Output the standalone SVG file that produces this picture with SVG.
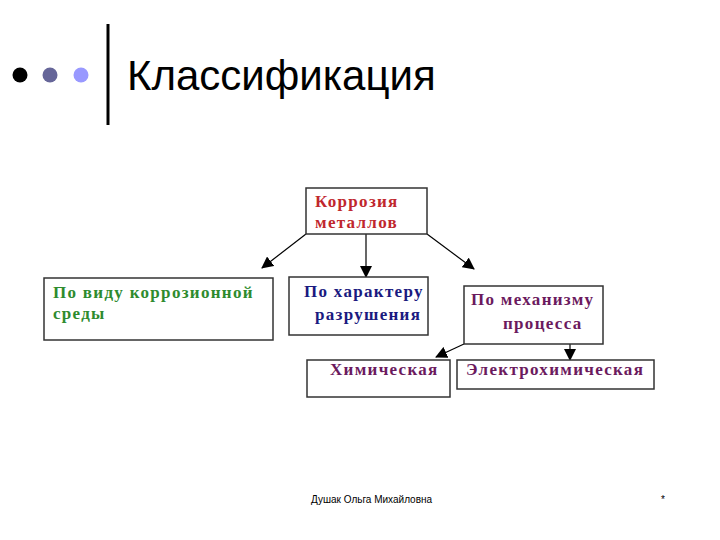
<svg xmlns="http://www.w3.org/2000/svg" width="720" height="540" viewBox="0 0 720 540">
<defs>
<marker id="ah" markerWidth="12" markerHeight="12" refX="11" refY="6" orient="auto" markerUnits="userSpaceOnUse">
<path d="M0,0 L12,6 L0,12 Z" fill="#000"/>
</marker>
<style>
.box{fill:#fff;stroke:#333;stroke-width:1.5}
.t{font-family:"Liberation Serif","DejaVu Serif",serif;font-weight:bold;font-size:17px;letter-spacing:1.3px}
.c{stroke:#000;stroke-width:1.2;fill:none;marker-end:url(#ah)}
</style>
</defs>
<rect width="720" height="540" fill="#fff"/>
<g id="header">
<circle cx="20" cy="75" r="7.5" fill="#000"/>
<circle cx="50" cy="75" r="7.5" fill="#666699"/>
<circle cx="81" cy="75" r="7.5" fill="#9999ff"/>
<line x1="108" y1="24" x2="108" y2="125" stroke="#000" stroke-width="3"/>
<text x="127" y="90" font-family="Liberation Sans, Arial, sans-serif" font-size="42" fill="#000">Классификация</text>
</g>
<g id="connectors">
<line class="c" x1="306" y1="234" x2="262" y2="268"/>
<line class="c" x1="366" y1="234" x2="366" y2="277"/>
<line class="c" x1="427" y1="234" x2="474" y2="269"/>
<line class="c" x1="464" y1="344" x2="436" y2="357"/>
<line class="c" x1="570" y1="344" x2="570" y2="360"/>
</g>
<g id="n1">
<rect class="box" x="306" y="188" width="121" height="46"/>
<text class="t" x="315" y="207" fill="#c0272d">Коррозия</text>
<text class="t" x="315" y="228" fill="#c0272d">металлов</text>
</g>
<g id="n2">
<rect class="box" x="44" y="278" width="229" height="62"/>
<text class="t" x="53" y="298" fill="#2e8b2e">По виду коррозионной</text>
<text class="t" x="53" y="319" fill="#2e8b2e">среды</text>
</g>
<g id="n3">
<rect class="box" x="289" y="277" width="139" height="58"/>
<text class="t" x="304" y="297" fill="#1a1a80">По характеру</text>
<text class="t" x="315" y="320" fill="#1a1a80">разрушения</text>
</g>
<g id="n4">
<rect class="box" x="464" y="286" width="139" height="58"/>
<text class="t" x="471" y="305" fill="#6b1a5e">По механизму</text>
<text class="t" x="503" y="329" fill="#6b1a5e">процесса</text>
</g>
<g id="n5">
<rect class="box" x="307" y="360" width="143" height="37"/>
<text class="t" x="330" y="375" fill="#6b1a5e">Химическая</text>
</g>
<g id="n6">
<rect class="box" x="457" y="360" width="197" height="29"/>
<text class="t" x="466" y="375" fill="#6b1a5e">Электрохимическая</text>
</g>
<g id="footer">
<text x="311" y="503" font-family="Liberation Sans, Arial, sans-serif" font-size="10" fill="#000">Душак Ольга Михайловна</text>
<text x="661" y="503" font-family="Liberation Sans, Arial, sans-serif" font-size="10" fill="#000">*</text>
</g>
</svg>
